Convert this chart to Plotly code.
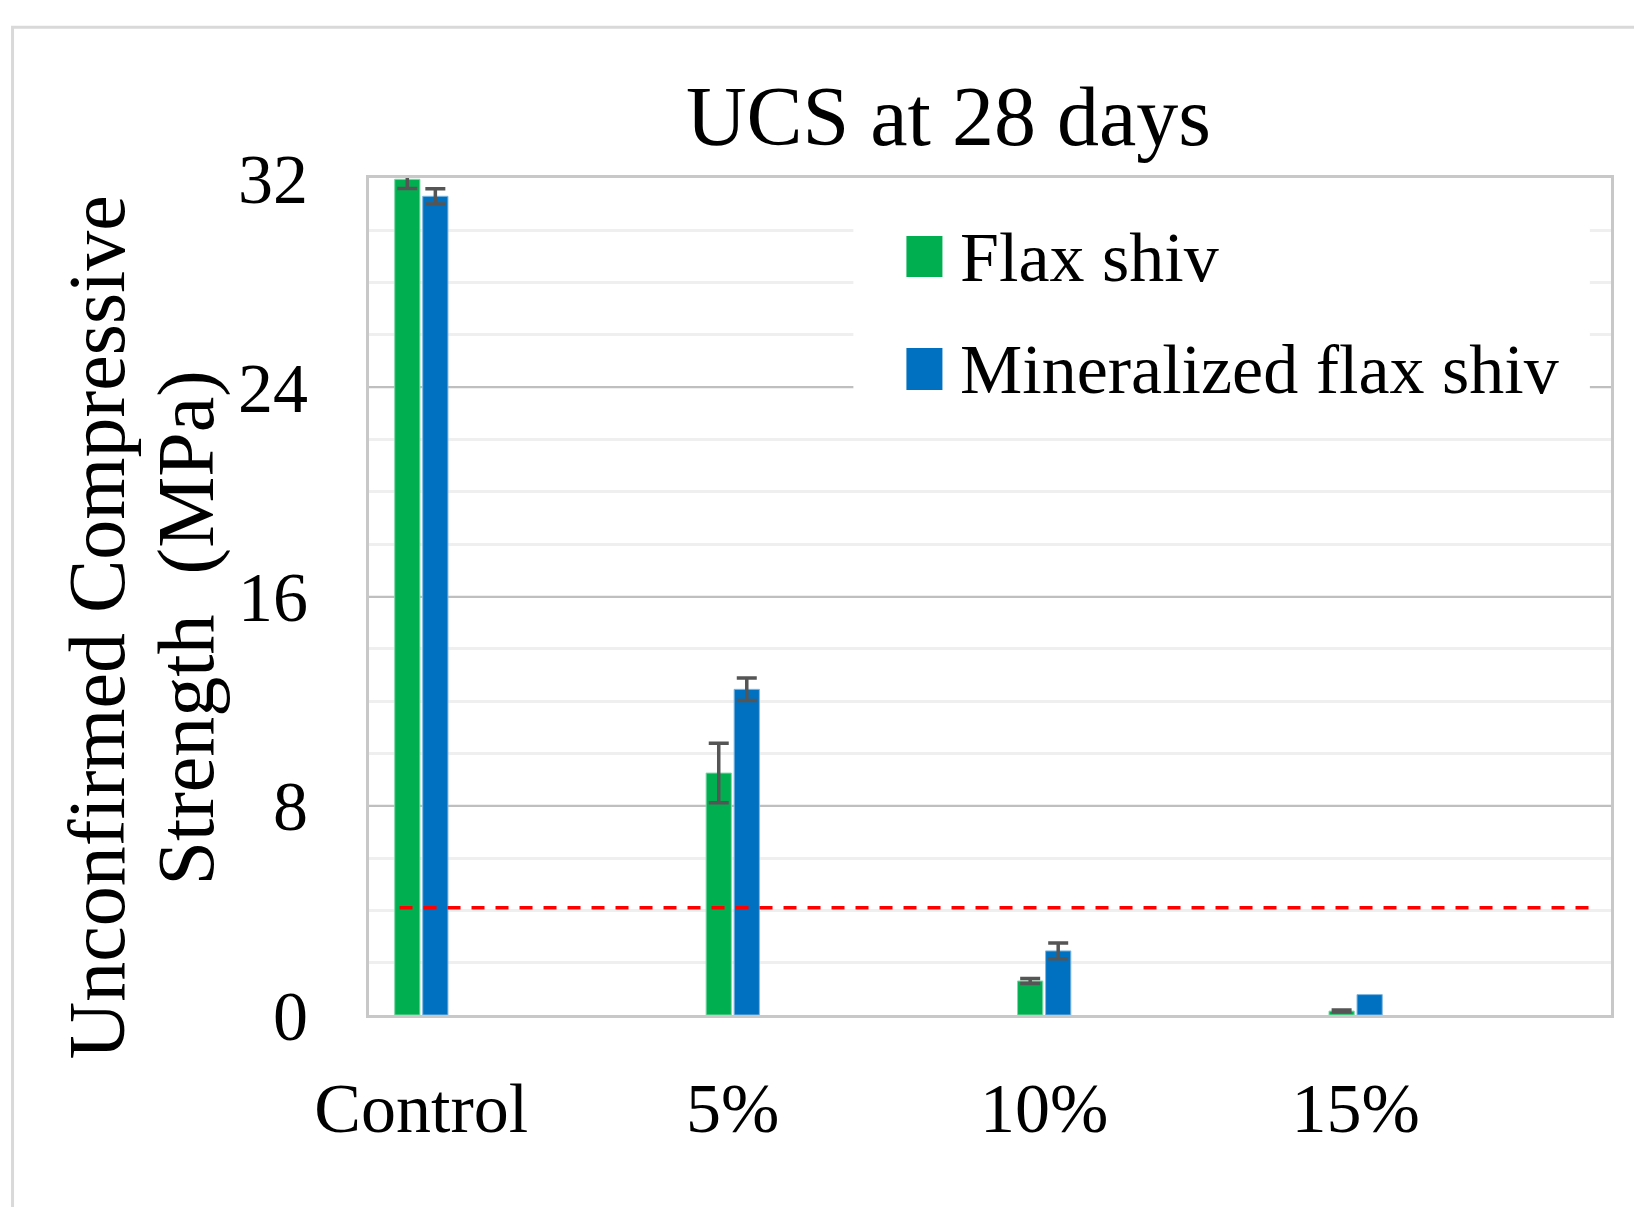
import plotly.graph_objects as go

categories = ["Control", "5%", "10%", "15%"]
series_names = ["Flax shiv", "Mineralized flax shiv"]
flax = [31.95, 9.25, 1.30, 0.15]
flax_err = [0.35, 1.14, 0.10, 0.04]
mineral = [31.30, 12.45, 2.45, 0.78]
mineral_err = [0.29, 0.43, 0.30, None]
threshold = 4.1
y_ticks = [0, 8, 16, 24, 32]
y_title_lines = ["Unconfirmed Compressive", "Strength  (MPa)"]
colors = ["#00B050", "#0070C0"]
edge_colors = ["#7fd8a7", "#7fb7e0"]

FONT = "Liberation Serif, Times New Roman, serif"


def err_array(errs):
    # trailing missing values are dropped so no error bar is drawn there
    arr = list(errs)
    while arr and arr[-1] is None:
        arr.pop()
    return arr


fig = go.Figure()
for name, vals, errs, col, ecol in zip(series_names, [flax, mineral], [flax_err, mineral_err], colors, edge_colors):
    fig.add_trace(go.Bar(
        x=categories, y=vals, name=name,
        marker=dict(color=col, line=dict(color=ecol, width=1)),
        error_y=dict(type="data", array=err_array(errs), visible=True, color="#555555", thickness=3.5, width=10),
        showlegend=False,
    ))

fig.update_layout(
    width=1634, height=1199,
    margin=dict(l=361, r=31, t=170, b=192),
    paper_bgcolor="white", plot_bgcolor="white",
    barmode="group", bargap=0.82, bargroupgap=0.1,
    font=dict(family=FONT, size=70, color="black"),
    title=dict(text="UCS at 28 days", font=dict(family=FONT, size=84, color="black"),
               x=0.4665, xref="paper", xanchor="center", y=0.91, yref="container", yanchor="middle"),
    xaxis=dict(type="category", range=[-0.168, 3.82], showgrid=False, ticks="",
               showline=True, linecolor="#c8c8c8", linewidth=3, mirror=True,
               tickfont=dict(family=FONT, size=70), ticklabelstandoff=30),
    yaxis=dict(range=[0, 32], tickvals=y_ticks, showgrid=True, gridcolor="#bfbfbf", gridwidth=2,
               zeroline=False, ticks="", showline=True, linecolor="#c8c8c8", linewidth=3, mirror=True,
               tickfont=dict(family=FONT, size=70), ticklabelstandoff=44,
               minor=dict(dtick=2, showgrid=True, gridcolor="#efefef", gridwidth=3)),
)

# y-axis title (two lines)
for line, xp in zip(y_title_lines, [-0.2187, -0.147]):
    fig.add_annotation(text=line, textangle=-90,
                       xref="paper", yref="paper", x=xp, y=0.4634, showarrow=False,
                       xanchor="center", yanchor="middle",
                       font=dict(family=FONT, size=80, color="black"))

# threshold line
fig.add_shape(type="line", xref="x", yref="y", x0=-0.07, x1=3.78, y0=threshold, y1=threshold,
              line=dict(color="#ff0000", width=3.5, dash="13px,11px"), layer="above")

# legend (white box + swatches + labels)
fig.add_shape(type="rect", xref="paper", yref="paper", x0=0.390, x1=0.983, y0=0.712, y1=0.975,
              fillcolor="white", line=dict(width=0), layer="above")
rows = [(0.8817, 0.9307, 0.9056), (0.7466, 0.7968, 0.7717)]
for (y0, y1, yt), name, col in zip(rows, series_names, colors):
    fig.add_shape(type="rect", xref="paper", yref="paper", x0=0.4327, x1=0.4617, y0=y0, y1=y1,
                  fillcolor=col, line=dict(width=0), layer="above")
    fig.add_annotation(text=name, xref="paper", yref="paper", x=0.4746, y=yt, showarrow=False,
                       xanchor="left", yanchor="middle", font=dict(family=FONT, size=70, color="black"))

# outer chart border
fig.add_shape(type="rect", xref="paper", yref="paper", x0=-0.287, x1=1.2, y0=-0.5, y1=1.180,
              line=dict(color="#d9d9d9", width=3), fillcolor="rgba(0,0,0,0)", layer="below")

fig.write_html("out.html")
